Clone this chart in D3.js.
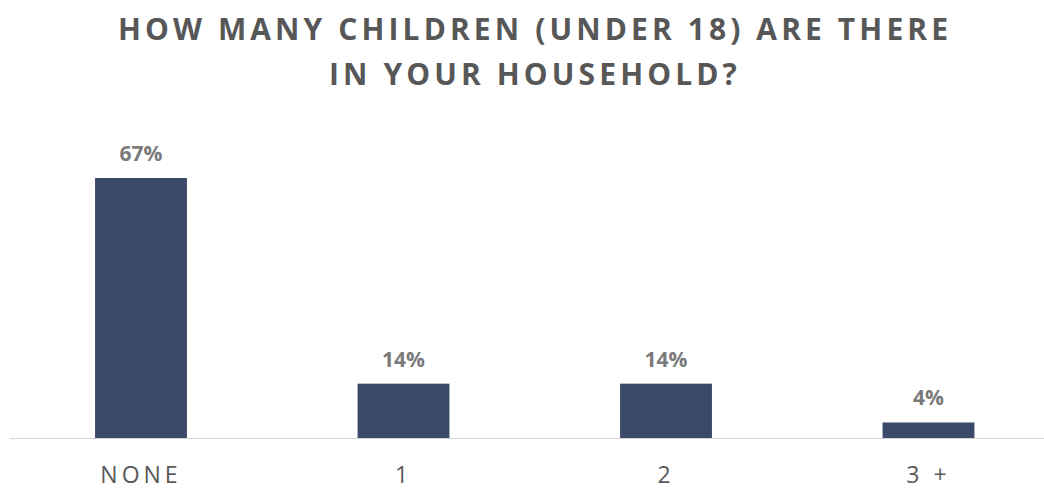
<!DOCTYPE html>
<html><head><meta charset="utf-8">
<script src="https://cdn.jsdelivr.net/npm/d3@7"></script>
<style>body{margin:0;background:#fff}svg{display:block}</style>
</head><body>
<svg id="chart" width="1044" height="489"></svg>
<script>
const titleLines = ["HOW MANY CHILDREN (UNDER 18) ARE THERE", "IN YOUR HOUSEHOLD?"];
const categories = ["NONE", "1", "2", "3 +"];
const values = [67, 14, 14, 4];
const valueLabels = ["67%", "14%", "14%", "4%"];

const svg = d3.select("#chart");
const W = 1044, H = 489;
const baseY = 438;

const x = d3.scaleBand().domain(categories).range([9.75, 1059.75]).paddingInner(0.65).paddingOuter(0.325);
const y = d3.scaleLinear().domain([0, 67]).range([baseY, 178]);

svg.append("g").selectAll("text").data(titleLines).join("text")
  .attr("x", 535).attr("y", (d, i) => 40 + i * 45)
  .attr("text-anchor", "middle")
  .attr("font-family", "'Open Sans', sans-serif").attr("font-weight", 700)
  .attr("font-size", 30).attr("letter-spacing", 4.1).attr("fill", "#575757")
  .text(d => d);

svg.append("line").attr("x1", 10).attr("x2", W).attr("y1", baseY + 0.5).attr("y2", baseY + 0.5)
  .attr("stroke", "#d4d4d4").attr("stroke-width", 1);

svg.append("g").selectAll("rect").data(values).join("rect")
  .attr("x", (d, i) => x(categories[i]))
  .attr("width", x.bandwidth())
  .attr("y", d => y(d))
  .attr("height", d => baseY - y(d))
  .attr("fill", "#3b4a68");

svg.append("g").selectAll("text").data(values).join("text")
  .attr("x", (d, i) => x(categories[i]) + x.bandwidth() / 2)
  .attr("y", d => y(d) - 17)
  .attr("text-anchor", "middle")
  .attr("font-family", "'Open Sans', sans-serif").attr("font-weight", 700)
  .attr("font-size", 21).attr("fill", "#7a7a7a")
  .text((d, i) => valueLabels[i]);

const xAxis = d3.axisBottom(x).tickSize(0).tickPadding(0);
const gx = svg.append("g").attr("transform", `translate(0,${baseY})`).call(xAxis);
gx.select(".domain").remove();
gx.selectAll("text")
  .attr("dy", null).attr("y", 44.5)
  .attr("font-family", "'Open Sans', sans-serif").attr("font-size", 23)
  .attr("letter-spacing", 4).attr("fill", "#595959");
</script>
</body></html>
